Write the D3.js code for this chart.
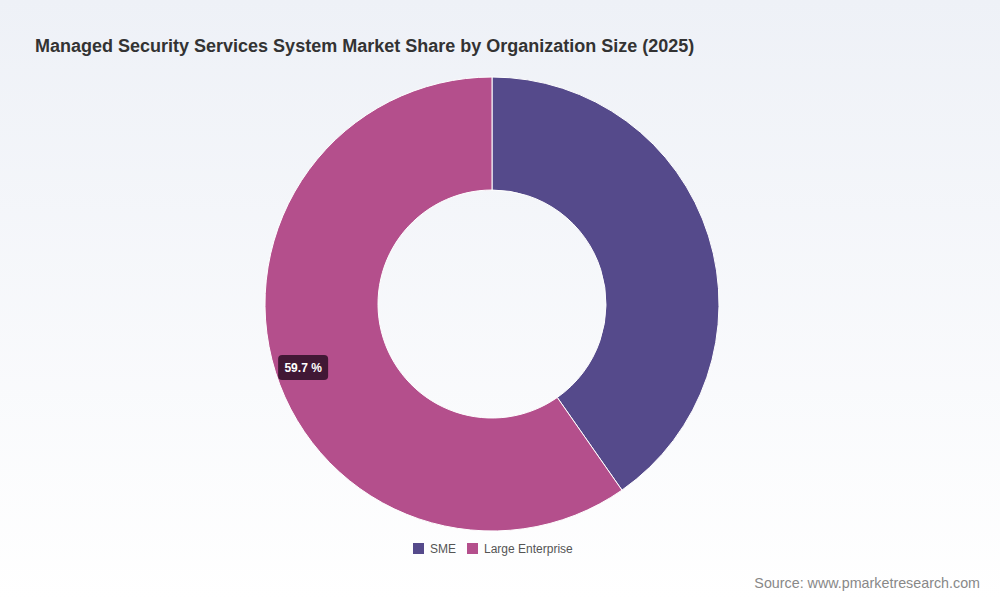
<!DOCTYPE html>
<html>
<head>
<meta charset="utf-8">
<script src="https://cdn.jsdelivr.net/npm/d3@7"></script>
<style>
  html, body { margin: 0; padding: 0; }
  body { width: 1000px; height: 600px; overflow: hidden; font-family: "Liberation Sans", Arial, sans-serif; }
</style>
</head>
<body>
<div id="chart"></div>
<script>
// chart data
var categories = ["SME", "Large Enterprise"];
var shares = [40.3, 59.7];
var colors = ["#554a8b", "#b44f8c"];
var titleText = "Managed Security Services System Market Share by Organization Size (2025)";
var sourceText = "Source: www.pmarketresearch.com";

var svgWidth = 1000;
var svgHeight = 600;

var svg = d3.select("#chart")
  .append("svg")
  .attr("width", svgWidth)
  .attr("height", svgHeight);

// background gradient
var defs = svg.append("defs");
var grad = defs.append("linearGradient")
  .attr("id", "bg")
  .attr("x1", 0).attr("y1", 0)
  .attr("x2", 0).attr("y2", 1);
grad.append("stop").attr("offset", "0%").attr("stop-color", "#eef1f7");
grad.append("stop").attr("offset", "100%").attr("stop-color", "#ffffff");

svg.append("rect")
  .attr("width", svgWidth)
  .attr("height", svgHeight)
  .attr("fill", "url(#bg)");

// title
svg.append("text")
  .attr("x", 35)
  .attr("y", 52)
  .attr("font-size", "18px")
  .attr("font-weight", "bold")
  .attr("fill", "#333")
  .text(titleText);

// donut
var cx = 492, cy = 304;
var outerR = 227, innerR = 114;

var data = categories.map(function (c, i) {
  return { name: c, value: shares[i], color: colors[i] };
});

var pie = d3.pie()
  .value(d => d.value)
  .sort(null);

var arc = d3.arc()
  .innerRadius(innerR)
  .outerRadius(outerR);

var chartGroup = svg.append("g")
  .attr("transform", `translate(${cx}, ${cy})`);

var arcs = pie(data);

chartGroup.selectAll("path")
  .data(arcs)
  .enter()
  .append("path")
  .attr("d", arc)
  .attr("fill", d => d.data.color)
  .attr("stroke", "#ffffff")
  .attr("stroke-width", 1);

// label on the biggest slice only
var labelArc = d3.arc()
  .innerRadius(198)
  .outerRadius(198);

var biggest = arcs.reduce((a, b) => (b.value > a.value ? b : a));
var pos = labelArc.centroid(biggest);

// small nudge down so the box sits like the original
var labelGroup = chartGroup.append("g")
  .attr("transform", `translate(${pos[0]}, ${pos[1] + 4})`);

var labelText = biggest.data.value.toFixed(1) + " %";

labelGroup.append("rect")
  .attr("x", -25)
  .attr("y", -12.5)
  .attr("width", 50)
  .attr("height", 25)
  .attr("rx", 4)
  .attr("fill", "#3b1530")
  .attr("fill-opacity", 0.95);

labelGroup.append("text")
  .attr("text-anchor", "middle")
  .attr("dy", "0.35em")
  .attr("font-size", "12px")
  .attr("font-weight", "bold")
  .attr("fill", "#ffffff")
  .text(labelText);

// legend
var legend = svg.append("g")
  .attr("transform", "translate(413, 543)");

var legendX = [0, 54];
var items = legend.selectAll("g.item")
  .data(data)
  .enter()
  .append("g")
  .attr("class", "item")
  .attr("transform", (d, i) => `translate(${legendX[i]}, 0)`);

items.append("rect")
  .attr("width", 11)
  .attr("height", 11)
  .attr("fill", d => d.color);

items.append("text")
  .attr("x", 17)
  .attr("y", 10)
  .attr("font-size", "12px")
  .attr("fill", "#555")
  .text(d => d.name);

// source
svg.append("text")
  .attr("x", 980)
  .attr("y", 588)
  .attr("text-anchor", "end")
  .attr("font-size", "14.3px")
  .attr("fill", "#888")
  .text(sourceText);
</script>
</body>
</html>
